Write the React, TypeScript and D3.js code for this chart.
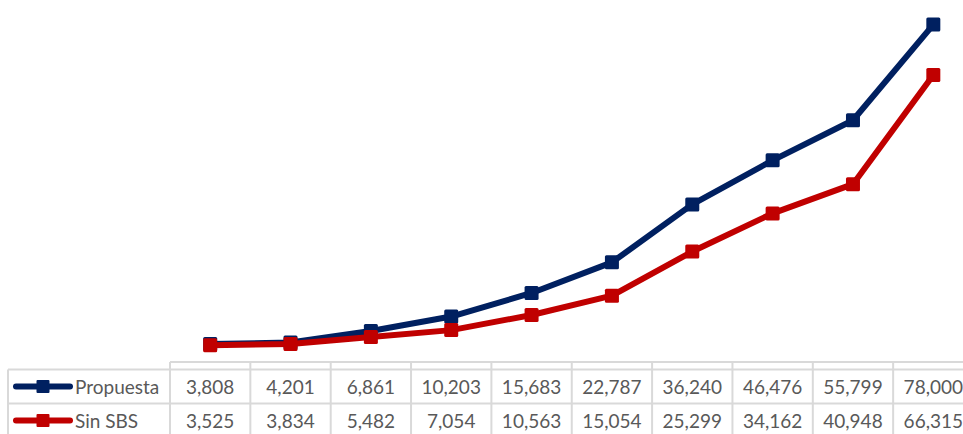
import React from "react";
import * as d3 from "d3";

const categories = ["1", "2", "3", "4", "5", "6", "7", "8", "9", "10"];
const propuesta = [3808, 4201, 6861, 10203, 15683, 22787, 36240, 46476, 55799, 78000];
const sinSBS = [3525, 3834, 5482, 7054, 10563, 15054, 25299, 34162, 40948, 66315];
const seriesNames = ["Propuesta", "Sin SBS"];
const seriesColors = ["#002060", "#C00000"];

const W = 963;
const H = 434;
const tableLeft = 8;
const plotLeft = 170;
const colW = 80.35;
const plotRight = plotLeft + colW * categories.length;
const headerTop = 362;
const row1Top = 369.5;
const rowH = 34;
const yTop = 16;

export default function App() {
  const x = d3
    .scaleBand<string>()
    .domain(categories)
    .range([plotLeft, plotRight]);
  const y = d3.scaleLinear().domain([0, 80000]).range([360.5, yTop]);
  const line = d3
    .line<number>()
    .x((_, i) => (x(categories[i]) as number) + x.bandwidth() / 2)
    .y((d) => y(d));
  const series = [propuesta, sinSBS];
  const grid = "#D9D9D9";
  const fontFamily = "Lato, 'Open Sans', sans-serif";
  const ms = 14;

  return (
    <svg
      width={W}
      height={H}
      style={{ position: "absolute", left: 0, top: 0, display: "block" }}
    >
      <rect width={W} height={H} fill="#fff" />
      {/* table grid */}
      <g stroke={grid} strokeWidth={2} fill="none">
        <line x1={plotLeft} x2={plotRight} y1={headerTop} y2={headerTop} />
        <line x1={tableLeft} x2={plotRight} y1={row1Top} y2={row1Top} />
        <line x1={tableLeft} x2={plotRight} y1={row1Top + rowH} y2={row1Top + rowH} />
        <line x1={tableLeft} x2={plotRight} y1={row1Top + 2 * rowH} y2={row1Top + 2 * rowH} />
        <line x1={tableLeft} x2={tableLeft} y1={row1Top} y2={H + 10} />
        {d3.range(categories.length + 1).map((i) => (
          <line
            key={i}
            x1={plotLeft + i * colW}
            x2={plotLeft + i * colW}
            y1={headerTop}
            y2={H + 10}
          />
        ))}
      </g>
      {/* lines */}
      {series.map((s, si) => (
        <g key={si}>
          <path
            d={line(s) || ""}
            fill="none"
            stroke={seriesColors[si]}
            strokeWidth={6}
            strokeLinejoin="round"
            strokeLinecap="round"
          />
          {s.map((v, i) => (
            <rect
              key={i}
              x={(x(categories[i]) as number) + x.bandwidth() / 2 - ms / 2}
              y={y(v) - ms / 2}
              width={ms}
              height={ms}
              rx={1.5}
              fill={seriesColors[si]}
            />
          ))}
        </g>
      ))}
      {/* table body */}
      {series.map((s, si) => {
        const cy = row1Top + rowH * si + rowH / 2;
        return (
          <g key={"row" + si}>
            <line
              x1={16}
              x2={70}
              y1={cy}
              y2={cy}
              stroke={seriesColors[si]}
              strokeWidth={6}
              strokeLinecap="round"
            />
            <rect
              x={43 - 6.5}
              y={cy - 6.5}
              width={13}
              height={13}
              rx={1}
              fill={seriesColors[si]}
            />
            <text
              x={75}
              y={cy + 7}
              fontFamily={fontFamily}
              fontSize={19}
              fill="#595959"
            >
              {seriesNames[si]}
            </text>
            {s.map((v, i) => (
              <text
                key={i}
                x={(x(categories[i]) as number) + x.bandwidth() / 2}
                y={cy + 7}
                textAnchor="middle"
                fontFamily={fontFamily}
                fontSize={19}
                fill="#595959"
              >
                {d3.format(",")(v)}
              </text>
            ))}
          </g>
        );
      })}
    </svg>
  );
}
